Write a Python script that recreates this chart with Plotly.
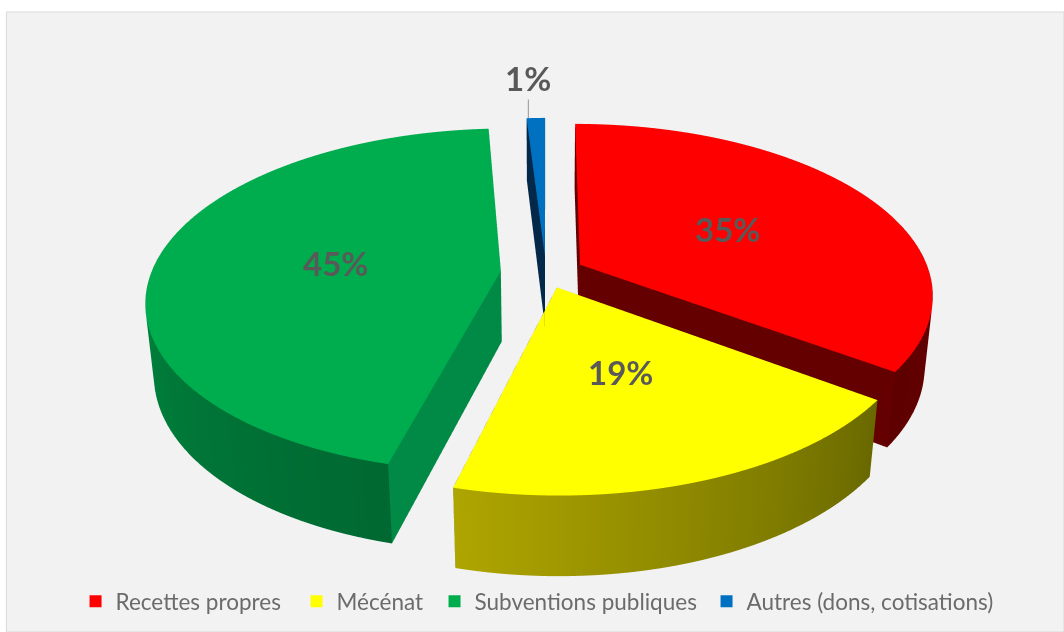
import numpy as np
import plotly.graph_objects as go

categories = ["Recettes propres", "Mécénat", "Subventions publiques", "Autres (dons, cotisations)"]
values = [35, 19, 45, 1]
labels = ["35%", "19%", "45%", "1%"]
explode = [0.11, 0.09, 0.13, 0.10]
top_colors = ["#ff0000", "#ffff00", "#00ad4e", "#0070c0"]
side_start = [(120, 0, 0), (105, 105, 0), (0, 105, 50), (0, 40, 80)]
side_end = [(95, 0, 0), (175, 165, 0), (0, 165, 75), (0, 40, 80)]
cut_colors = ["#640000", "#6b6b00", "#008a45", "#03284a"]
label_r = [0.5, 0.48, 0.48, 1.0]
label_dx = [0, 0, 0, -0.025]
legend_widths = [176, 93, 227, 250]
HEIGHT = 0.235
PERSP_Y = 0.17
PERSP_Z = 0.09


def hexc(c):
    return "rgb(%d,%d,%d)" % tuple(int(v) for v in c)


def warp(x, y, z):
    s = 1 / (1 + PERSP_Y * np.asarray(y) - PERSP_Z * np.asarray(z))
    return np.asarray(x) * s, np.asarray(y) * s, np.asarray(z) * s


def wedge(a0, a1, ex, top, s0, s1, cut):
    th = np.radians(np.linspace(a0, a1, 90))
    mid = np.radians((a0 + a1) / 2)
    ox, oy = ex * np.sin(mid), ex * np.cos(mid)
    xs = ox + np.sin(th)
    ys = oy + np.cos(th)
    n = len(th)
    X = np.r_[ox, xs, ox, xs]
    Y = np.r_[oy, ys, oy, ys]
    Z = np.r_[np.zeros(n + 1), -HEIGHT * np.ones(n + 1)]
    X, Y, Z = warp(X, Y, Z)
    I, J, K, C = [], [], [], []
    for i in range(n - 1):
        I.append(0); J.append(i + 1); K.append(i + 2); C.append(top)
        t = i / (n - 2)
        col = hexc(np.array(s0) * (1 - t) + np.array(s1) * t)
        a, b, c, d = i + 1, i + 2, n + 1 + i + 1, n + 1 + i + 2
        I += [a, b]; J += [b, d]; K += [c, c]; C += [col, col]
    for e in (1, n):
        a, b, c, d = 0, e, n + 1, n + 1 + e
        I += [a, b]; J += [b, d]; K += [c, c]; C += [cut, cut]
    return go.Mesh3d(x=X, y=Y, z=Z, i=I, j=J, k=K, facecolor=C, flatshading=True,
                     lighting=dict(ambient=1, diffuse=0, specular=0, fresnel=0),
                     hoverinfo="skip", showlegend=False, showscale=False), ox, oy, mid


fig = go.Figure()
ann = []
start = 0.0
total = sum(values)
for idx, v in enumerate(values):
    sweep = 360 * v / total
    tr, ox, oy, mid = wedge(start, start + sweep, explode[idx], top_colors[idx],
                            side_start[idx], side_end[idx], cut_colors[idx])
    fig.add_trace(tr)
    px, py, pz = warp(ox + label_r[idx] * np.sin(mid) + label_dx[idx], oy + label_r[idx] * np.cos(mid), 0.0)
    if idx == 3:
        ann.append(dict(x=float(px), y=float(py), z=0, text=f"<b>{labels[idx]}</b>",
                        showarrow=True, ax=0, ay=-40, arrowcolor="#a6a6a6", arrowwidth=1.2, arrowhead=0,
                        font=dict(family="Lato", size=33, color="#595959")))
    else:
        ann.append(dict(x=float(px), y=float(py), z=0, text=f"<b>{labels[idx]}</b>",
                        showarrow=False, font=dict(family="Lato", size=33, color="#595959")))
    start += sweep

for c, col, w in zip(categories, top_colors, legend_widths):
    fig.add_trace(go.Scatter(x=[None], y=[None], mode="markers", name=c, legendwidth=w,
                             marker=dict(symbol="square", size=14, color=col)))

axis = dict(visible=False, showgrid=False, zeroline=False, showspikes=False)
fig.update_layout(
    width=1064, height=632, margin=dict(l=0, r=0, t=0, b=0),
    paper_bgcolor="white", plot_bgcolor="rgba(0,0,0,0)",
    font=dict(family="Lato", color="#6b6b6b", size=22.5),
    xaxis=dict(visible=False), yaxis=dict(visible=False),
    shapes=[dict(type="rect", xref="paper", yref="paper", x0=0.006, x1=1.0, y0=0, y1=0.981,
                 fillcolor="#f2f2f2", line=dict(color="#d9d9d9", width=1), layer="below")],
    legend=dict(orientation="h", x=0.071, xanchor="left", y=0.014, yanchor="bottom",
                bgcolor="rgba(0,0,0,0)", itemsizing="constant", font=dict(size=22.5)),
    scene=dict(
        domain=dict(x=[0.0262, 1], y=[0, 1]),
        bgcolor="rgba(0,0,0,0)",
        xaxis=dict(axis, range=[-1.5, 1.5]), yaxis=dict(axis, range=[-1.5, 1.5]), zaxis=dict(axis, range=[-0.75, 0.75]),
        aspectmode="manual", aspectratio=dict(x=3.32, y=3.32, z=1.66),
        camera=dict(eye=dict(x=0, y=-5, z=2.57), up=dict(x=0, y=0, z=1), center=dict(x=0, y=0, z=-0.155),
                    projection=dict(type="orthographic")),
        annotations=ann,
    ),
)
fig.write_html("out.html", config=dict(displayModeBar=False), post_script="document.body.style.margin='0';")
